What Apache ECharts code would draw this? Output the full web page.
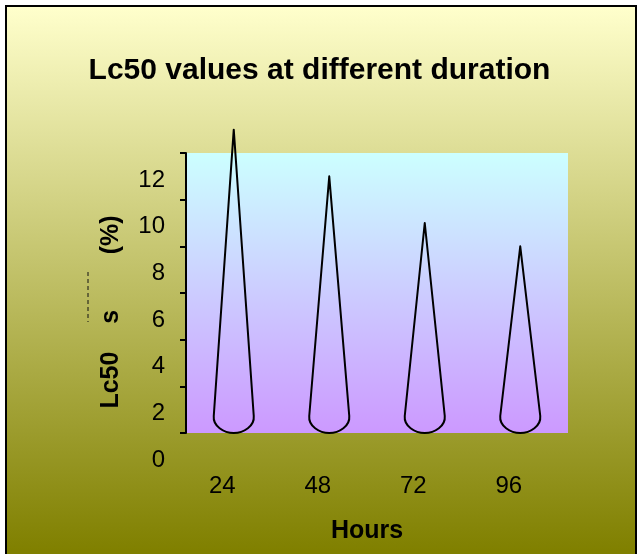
<!DOCTYPE html>
<html>
<head>
<meta charset="utf-8">
<script src="https://cdn.jsdelivr.net/npm/echarts@6/dist/echarts.min.js"></script>
<style>
  html, body { margin: 0; padding: 0; background: #ffffff; }
  #wrap { position: relative; width: 639px; height: 554px; overflow: hidden; }
  #bg { position: absolute; left: 5px; top: 5px; width: 632px; height: 570px;
        border: 2px solid #000; box-sizing: border-box;
        background: linear-gradient(to bottom, #FFFFCC 0%, #808000 96%); }
  #chart { position: absolute; left: 0; top: 0; width: 639px; height: 554px; }
</style>
</head>
<body>
<div id="wrap">
  <div id="bg"></div>
  <div id="chart"></div>
</div>
<script>
const categories = ['24', '48', '72', '96'];
const lc50Values = [13, 11, 9, 8];
const yMin = 0, yMax = 12, yStep = 2;
const titleText = 'Lc50 values at different duration';
const xName = 'Hours';
const yName = 'Lc50    s        (%)';

const chart = echarts.init(document.getElementById('chart'), null, { renderer: 'canvas' });
const FONT = 'Liberation Sans, Arial, sans-serif';

const option = {
  backgroundColor: 'transparent',
  animation: false,
  title: {
    text: titleText,
    left: 'center',
    top: 51,
    textStyle: { fontFamily: FONT, fontSize: 30, fontWeight: 'bold', color: '#000' }
  },
  grid: [{
    left: 186, top: 153, width: 382, height: 280,
    show: true,
    borderWidth: 0,
    backgroundColor: new echarts.graphic.LinearGradient(0, 0, 0, 1, [
      { offset: 0, color: '#CCFFFF' },
      { offset: 1, color: '#CC99FF' }
    ])
  }, {
    // label grid: the tick labels of the reference sit half a step below their ticks
    left: 186, top: 180, width: 382, height: 280,
    show: false
  }],
  xAxis: [{
    type: 'category',
    gridIndex: 0,
    data: categories,
    boundaryGap: true,
    axisLine: { show: false },
    axisTick: { show: false },
    splitLine: { show: false },
    axisLabel: {
      fontFamily: FONT, fontSize: 24, color: '#000',
      margin: 41, padding: [0, 23, 0, 0]
    },
    name: xName,
    nameLocation: 'middle',
    nameGap: 86,
    nameTextStyle: { fontFamily: FONT, fontSize: 25, fontWeight: 'bold', color: '#000', padding: [0, 20, 0, 0] }
  }, {
    type: 'category',
    gridIndex: 1,
    data: categories,
    show: false
  }],
  yAxis: [{
    type: 'value',
    gridIndex: 0,
    min: yMin, max: yMax, interval: yStep,
    axisLine: { show: true, lineStyle: { color: '#000', width: 2 } },
    axisTick: { show: true, inside: false, length: 6, lineStyle: { color: '#000', width: 2 } },
    splitLine: { show: false },
    axisLabel: { show: false },
    name: yName,
    nameLocation: 'middle',
    nameRotate: 90,
    nameGap: 62,
    nameTextStyle: { fontFamily: FONT, fontSize: 25, fontWeight: 'bold', color: '#000', padding: [0, 38, 0, 0] }
  }, {
    type: 'value',
    gridIndex: 1,
    min: yMin, max: yMax, interval: yStep,
    axisLine: { show: false },
    axisTick: { show: false },
    splitLine: { show: false },
    axisLabel: {
      fontFamily: FONT, fontSize: 24, color: '#000',
      margin: 21, showMinLabel: true, showMaxLabel: true
    }
  }],
  graphic: [{
    type: 'line',
    silent: true,
    shape: { x1: 88, y1: 272, x2: 88, y2: 322 },
    style: { stroke: '#111', lineWidth: 1, lineDash: [4, 3] }
  }],
  series: [{
    type: 'custom',
    xAxisIndex: 0,
    yAxisIndex: 0,
    clip: false,
    data: categories.map((c, i) => [i, lc50Values[i]]),
    encode: { x: 0, y: 1 },
    renderItem: function (params, api) {
      const tip = api.coord([api.value(0), api.value(1)]);
      const base = api.coord([api.value(0), 0]);
      const cx = tip[0], ty = tip[1], by = base[1];
      const hw = 20, rh = 17;
      const d = 'M' + cx + ' ' + ty +
        ' L' + (cx + hw) + ' ' + (by - rh) +
        ' C' + (cx + hw + 1) + ' ' + (by - 7) + ' ' + (cx + 10) + ' ' + by + ' ' + cx + ' ' + by +
        ' C' + (cx - 10) + ' ' + by + ' ' + (cx - hw - 1) + ' ' + (by - 7) + ' ' + (cx - hw) + ' ' + (by - rh) +
        ' Z';
      return {
        type: 'path',
        shape: { pathData: d },
        style: { fill: 'none', stroke: '#000', lineWidth: 2, lineJoin: 'round' }
      };
    }
  }]
};
chart.setOption(option);
</script>
</body>
</html>
